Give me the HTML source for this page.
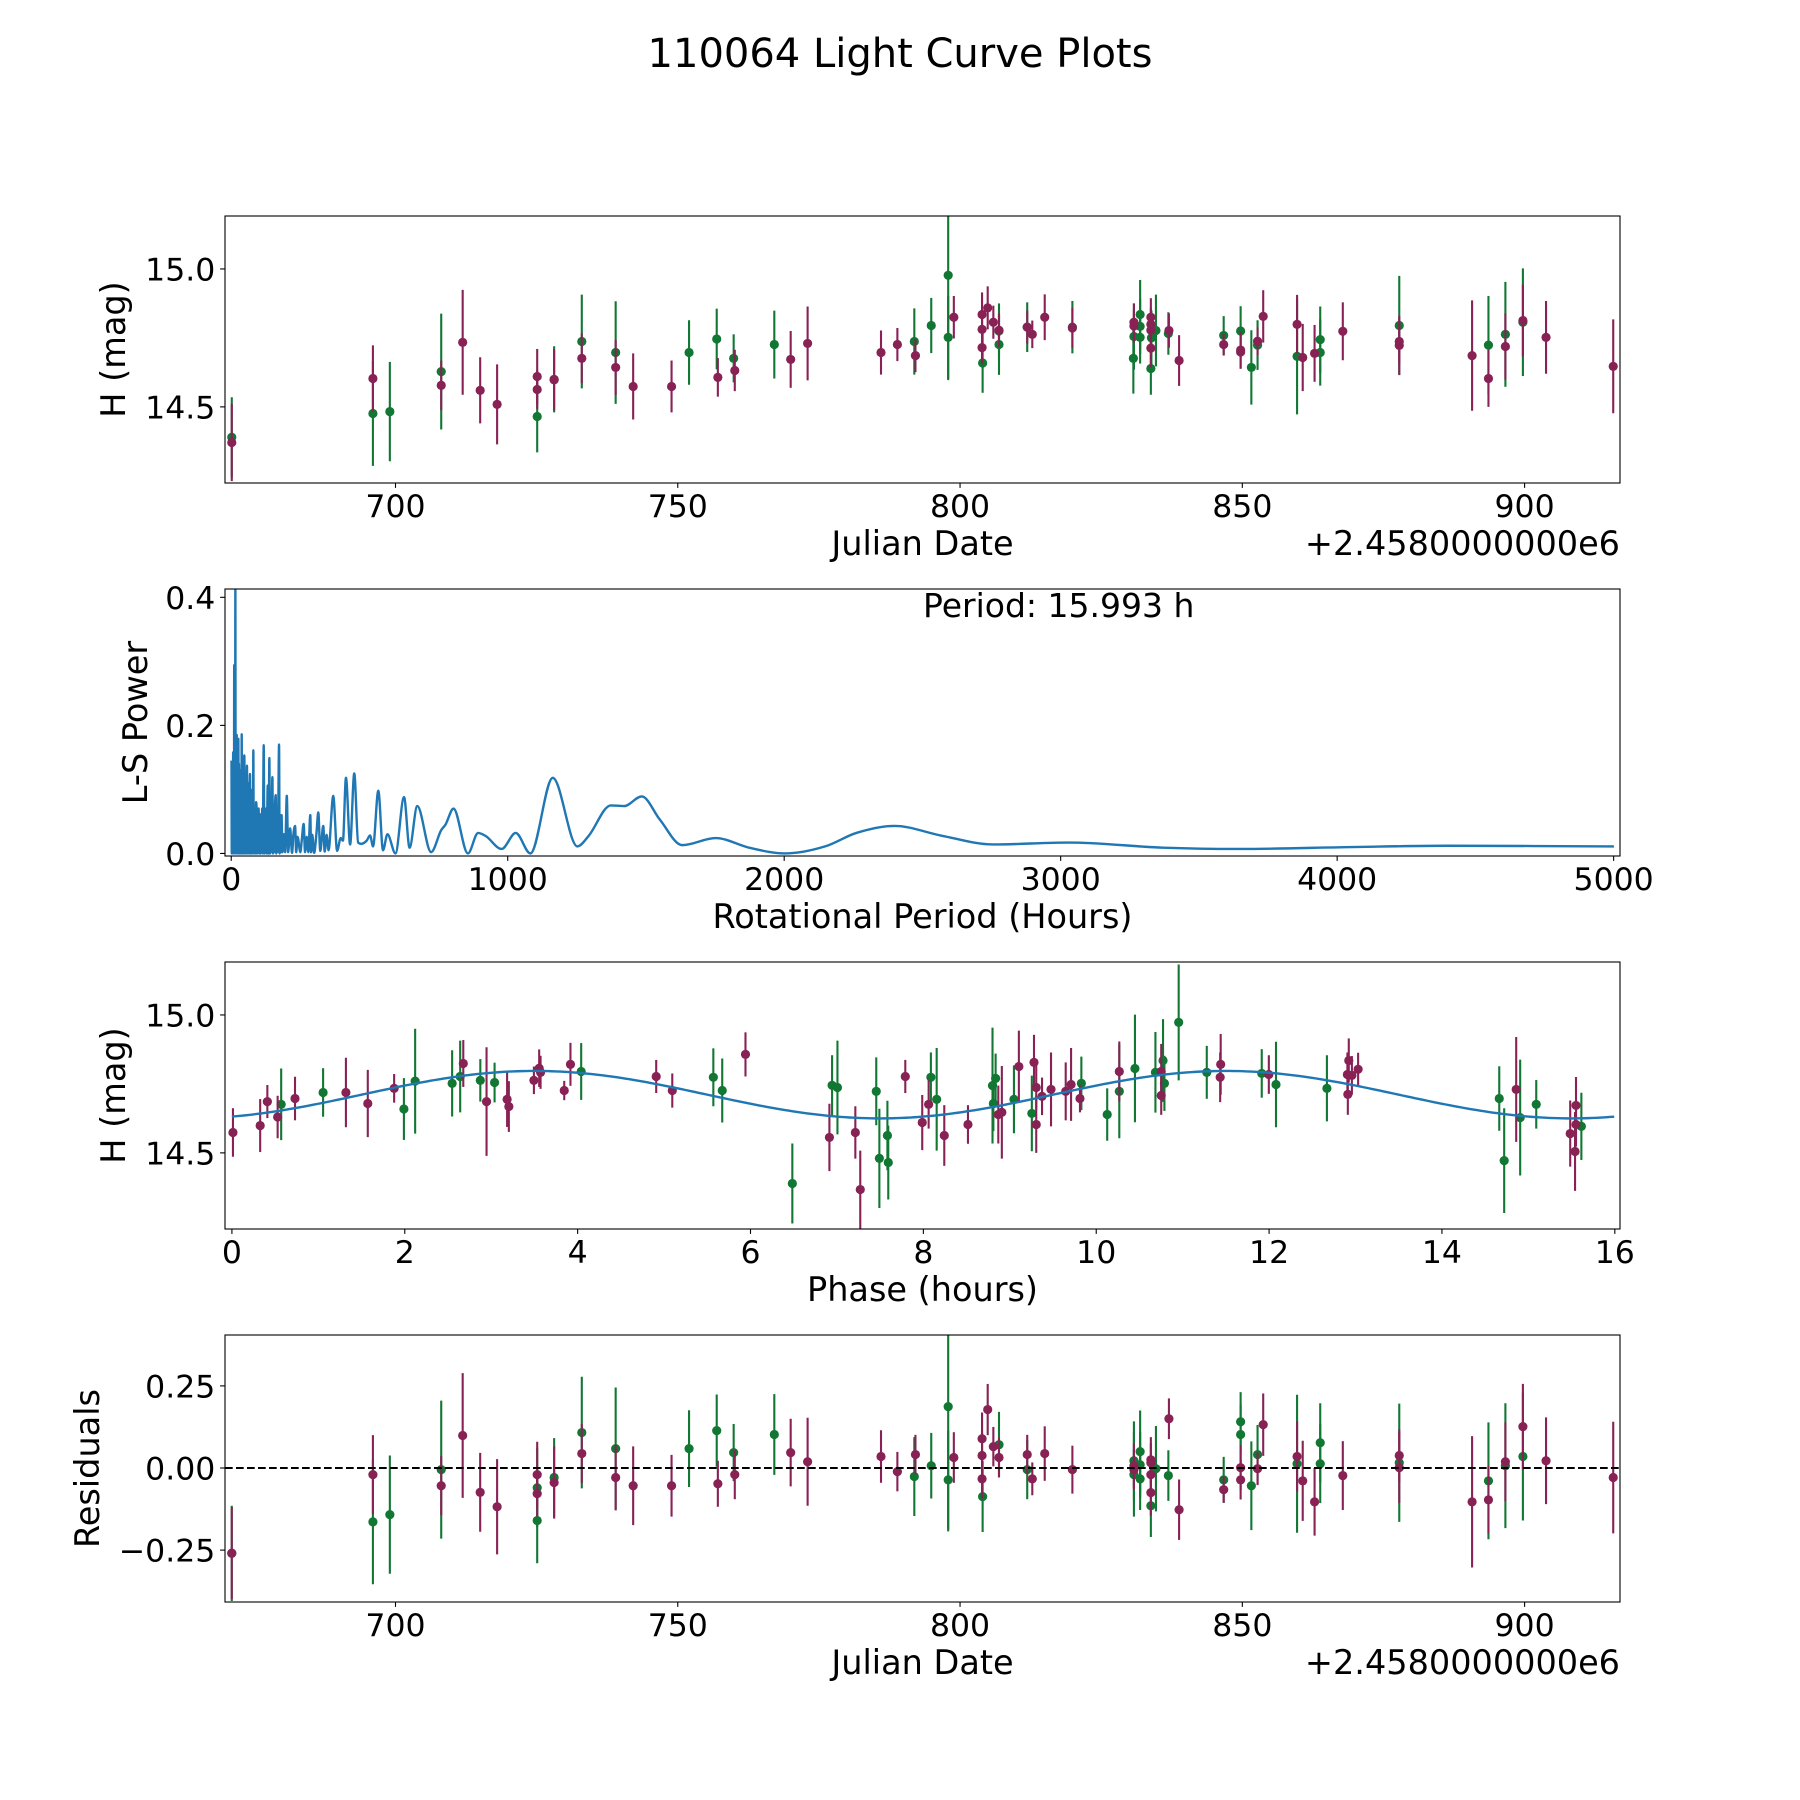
<!DOCTYPE html>
<html><head><meta charset="utf-8"><title>110064 Light Curve Plots</title>
<style>
html,body{margin:0;padding:0;background:#fff;}
svg{display:block;font-family:"DejaVu Sans","Liberation Sans",sans-serif;}
</style></head>
<body>
<svg id="fig" width="1800" height="1800" viewBox="0 0 1800 1800" xmlns="http://www.w3.org/2000/svg">
<rect x="0" y="0" width="1800" height="1800" fill="#fff"/>
<text x="900" y="67" font-size="40" text-anchor="middle">110064 Light Curve Plots</text>
</svg>
<script>
// ---------- DATA ----------
const topGreenDays=[671.0,696.0,699.0,708.1,725.1,728.1,733.0,739.0,752.0,756.9,759.9,767.1,791.9,794.9,797.9,797.9,804.0,806.9,806.9,811.9,819.9,830.7,830.8,831.9,831.9,831.9,833.8,833.9,834.7,836.9,846.7,849.7,851.6,852.7,859.7,863.8,863.8,877.8,893.6,896.6,899.7];
const topGreenMag=[14.390,14.476,14.483,14.628,14.465,14.600,14.737,14.697,14.697,14.746,14.676,14.726,14.737,14.795,14.977,14.752,14.659,14.775,14.726,14.789,14.789,14.676,14.755,14.835,14.792,14.752,14.639,14.750,14.777,14.766,14.759,14.775,14.643,14.724,14.683,14.697,14.744,14.795,14.724,14.763,14.807];
const topGreenErr=[0.145,0.19,0.18,0.21,0.13,0.12,0.17,0.186,0.117,0.11,0.087,0.123,0.12,0.10,0.38,0.15,0.108,0.10,0.11,0.09,0.095,0.128,0.12,0.125,0.10,0.095,0.095,0.10,0.13,0.077,0.07,0.09,0.135,0.09,0.21,0.12,0.12,0.18,0.178,0.19,0.195];

const topMaroonDays=[671.0,696.0,708.1,711.9,715.0,718.0,725.1,725.1,728.1,733.0,739.0,742.1,748.9,757.1,760.1,770.0,773.0,786.0,788.9,792.1,798.9,803.9,803.9,803.9,804.9,805.9,806.9,811.9,812.8,815.0,819.9,830.8,830.8,833.8,833.8,833.8,833.8,837.0,838.8,846.7,849.7,849.7,852.7,853.7,859.7,860.7,862.8,867.8,877.8,877.8,890.7,893.6,896.6,899.7,903.8,915.7];
const topMaroonMag=[14.371,14.603,14.578,14.734,14.560,14.509,14.610,14.563,14.598,14.676,14.643,14.574,14.574,14.607,14.632,14.672,14.730,14.697,14.726,14.686,14.825,14.835,14.781,14.715,14.859,14.807,14.778,14.789,14.763,14.825,14.786,14.807,14.793,14.825,14.799,14.778,14.713,14.777,14.668,14.726,14.706,14.699,14.738,14.828,14.799,14.679,14.694,14.774,14.737,14.723,14.686,14.603,14.719,14.813,14.752,14.647];
const topMaroonErr=[0.14,0.12,0.09,0.19,0.12,0.145,0.10,0.07,0.11,0.09,0.10,0.12,0.094,0.07,0.075,0.103,0.134,0.08,0.06,0.06,0.077,0.08,0.07,0.06,0.078,0.06,0.06,0.06,0.05,0.083,0.073,0.068,0.06,0.069,0.06,0.06,0.07,0.062,0.092,0.04,0.068,0.06,0.05,0.095,0.107,0.122,0.103,0.105,0.08,0.107,0.2,0.103,0.12,0.13,0.132,0.17];

const lsPeriods=[1,2,3,4,5,6,7,8,9,10,10.8,12,13,14,15,16,17,18,19.8,21,22,23,24,25,25.8,27,28,29,30,31,32,33,34,35,36,37,37.9,39,40,41,42,43,44,45,46,47.5,49,50,51,52,53,54,55,57,58.5,60,61.5,63,64.5,66,68,69.5,71,72.5,74,75.5,77,78.5,80,81.5,83,84.5,86,88,90,92,93.5,95,97,99,101,102.5,104,106,108,110,112,114,117.5,120,122,124,126,128,130,132,134,136,138,140,142,144,146,149,151,153,155,158,161,163,165,167,170,173,175,177,179,182,185,190,195,201,206,213,220,225,231,235,240,250,255,262,267,273,279,286,289,293,300,308,315,322,333,338,345,352,369,383,396,404,415,430,445,459,470,490,502,513,532,549,565,594,625,645,673,723,759,775,804,856,893,921,978,1029,1082,1163,1252,1292,1373,1421,1485,1550,1631,1752,1873,2002,2148,2261,2400,2567,2755,3030,3370,3645,4054,4394,5001];
const lsPower=[0.145,0.0,0.13,0.003,0.14,0.0,0.158,0.005,0.12,0.01,0.294,0.0,0.14,0.01,0.413,0.003,0.15,0.0,0.185,0.002,0.14,0.0,0.12,0.003,0.179,0.0,0.14,0.002,0.11,0.0,0.13,0.003,0.12,0.0,0.10,0.002,0.186,0.0,0.11,0.002,0.13,0.0,0.09,0.002,0.12,0.153,0.0,0.10,0.002,0.12,0.0,0.09,0.002,0.137,0.0,0.08,0.002,0.11,0.0,0.07,0.124,0.0,0.09,0.002,0.06,0.0,0.10,0.002,0.161,0.0,0.07,0.002,0.06,0.0,0.08,0.065,0.0,0.05,0.002,0.07,0.0,0.06,0.061,0.0,0.05,0.002,0.07,0.0,0.169,0.0,0.06,0.002,0.07,0.0,0.05,0.106,0.0,0.06,0.149,0.0,0.07,0.002,0.05,0.119,0.0,0.06,0.002,0.07,0.091,0.0,0.05,0.002,0.06,0.170,0.0,0.04,0.002,0.060,0.002,0.03,0.002,0.090,0.002,0.039,0.001,0.03,0.043,0.002,0.026,0.002,0.02,0.046,0.002,0.026,0.002,0.060,0.002,0.029,0.001,0.03,0.064,0.004,0.043,0.003,0.029,0.005,0.090,0.004,0.024,0.02,0.118,0.014,0.125,0.017,0.015,0.02,0.028,0.011,0.098,0.005,0.030,0.0,0.088,0.009,0.074,0.002,0.036,0.045,0.07,0.0,0.032,0.027,0.007,0.032,0.0,0.118,0.011,0.027,0.075,0.074,0.089,0.053,0.013,0.024,0.009,0.0,0.011,0.032,0.043,0.028,0.014,0.017,0.009,0.007,0.010,0.012,0.011];

const phaseGreenX=[0.57,1.055,1.99,2.12,2.548,2.641,2.874,3.039,4.041,5.57,5.673,6.484,6.944,7.006,7.455,7.491,7.584,7.594,8.087,8.154,8.8,8.81,8.836,9.048,9.255,9.828,10.127,10.267,10.448,10.685,10.773,10.789,10.954,11.279,11.915,12.08,12.669,14.663,14.72,14.905,15.091,15.613];
const phaseGreenY=[14.676,14.719,14.659,14.760,14.752,14.777,14.763,14.755,14.795,14.774,14.726,14.389,14.745,14.737,14.723,14.480,14.563,14.465,14.774,14.694,14.744,14.679,14.770,14.694,14.643,14.752,14.639,14.723,14.806,14.792,14.835,14.752,14.973,14.792,14.788,14.748,14.734,14.697,14.472,14.628,14.676,14.596];
const phaseGreenErr=[0.13,0.088,0.112,0.19,0.12,0.13,0.077,0.072,0.103,0.105,0.116,0.145,0.109,0.17,0.123,0.18,0.126,0.134,0.09,0.186,0.21,0.1,0.09,0.123,0.137,0.097,0.095,0.17,0.195,0.146,0.15,0.1,0.21,0.096,0.088,0.155,0.12,0.117,0.19,0.21,0.088,0.122];

const phaseMaroonX=[0.012,0.327,0.41,0.529,0.73,1.319,1.572,1.877,2.677,2.946,3.184,3.204,3.494,3.555,3.571,3.845,3.917,4.909,5.095,5.942,6.913,7.213,7.27,7.791,7.987,8.061,8.242,8.516,8.867,8.908,9.105,9.28,9.306,9.306,9.373,9.477,9.647,9.709,9.812,10.267,10.752,10.752,11.44,11.434,11.997,12.906,12.922,12.958,13.03,12.911,14.859,15.484,15.551,15.551,15.54];
const phaseMaroonY=[14.574,14.599,14.686,14.630,14.697,14.719,14.679,14.734,14.824,14.686,14.694,14.668,14.763,14.807,14.792,14.726,14.821,14.777,14.726,14.857,14.556,14.574,14.367,14.777,14.610,14.676,14.563,14.603,14.639,14.647,14.813,14.828,14.737,14.603,14.705,14.730,14.723,14.748,14.697,14.795,14.795,14.708,14.821,14.774,14.784,14.784,14.835,14.781,14.803,14.712,14.730,14.570,14.672,14.603,14.505];
const phaseMaroonErr=[0.088,0.096,0.06,0.077,0.079,0.126,0.122,0.052,0.085,0.197,0.1,0.092,0.05,0.068,0.06,0.035,0.078,0.06,0.062,0.08,0.122,0.095,0.141,0.06,0.10,0.088,0.11,0.07,0.105,0.168,0.13,0.1,0.08,0.103,0.068,0.134,0.105,0.132,0.05,0.109,0.1,0.07,0.11,0.09,0.07,0.08,0.08,0.07,0.06,0.074,0.19,0.12,0.103,0.08,0.143];

// fitted model: [mean mag, amplitude, phase of max (h), harmonic period (h)]
const fitParams=[14.711,0.086,3.5,8.0];

const resGreenDays=[671.0,696.0,699.0,708.1,725.1,725.1,728.1,733.0,739.0,752.0,756.9,759.9,767.1,791.9,794.9,797.9,797.9,804.0,806.9,811.9,830.8,830.8,831.9,831.9,831.9,833.8,834.7,836.9,846.7,849.7,849.7,851.6,852.7,859.7,863.8,863.8,877.8,893.6,896.6,899.7];
const resGreenVals=[-0.26,-0.164,-0.142,-0.005,-0.16,-0.06,-0.029,0.108,0.059,0.059,0.114,0.047,0.102,-0.026,0.007,0.187,-0.036,-0.087,0.071,-0.005,0.022,-0.02,0.05,0.01,-0.033,-0.115,-0.002,-0.023,-0.036,0.141,0.102,-0.054,0.041,0.013,0.077,0.013,0.016,-0.039,0.007,0.035];
const resGreenErr=[0.145,0.19,0.18,0.21,0.13,0.12,0.12,0.17,0.186,0.117,0.11,0.087,0.123,0.12,0.10,0.38,0.15,0.108,0.10,0.09,0.12,0.128,0.125,0.10,0.095,0.095,0.13,0.077,0.07,0.09,0.09,0.135,0.09,0.21,0.12,0.12,0.18,0.178,0.19,0.195];

const resMaroonDays=topMaroonDays.slice();
const resMaroonVals=[-0.259,-0.020,-0.054,0.099,-0.074,-0.118,-0.020,-0.078,-0.044,0.044,-0.029,-0.054,-0.054,-0.048,-0.020,0.047,0.019,0.035,-0.011,0.041,0.032,0.089,0.038,-0.033,0.178,0.065,0.032,0.041,-0.033,0.044,-0.005,0.007,-0.005,0.025,0.016,-0.020,-0.075,0.150,-0.127,-0.066,0.001,-0.036,-0.002,0.132,0.035,-0.039,-0.103,-0.023,0.038,0.001,-0.103,-0.097,0.019,0.126,0.022,-0.029];
const resMaroonErr=topMaroonErr.slice();

const jdTicks=[700,750,800,850,900];
const magTicks=[14.5,15.0];
const magTickLabels=["14.5","15.0"];
const lsXTicks=[0,1000,2000,3000,4000,5000];
const lsYTicks=[0,0.2,0.4];
const lsYTickLabels=["0.0","0.2","0.4"];
const phaseTicks=[0,2,4,6,8,10,12,14,16];
const resTicks=[-0.25,0,0.25];
const resTickLabels=["\u22120.25","0.00","0.25"];

// ---------- RENDER ----------
const NS="http://www.w3.org/2000/svg";
const svg=document.getElementById('fig');
const GREEN="#117733", MAROON="#882255", BLUE="#1f77b4";
const TICKFS=31.5, LABFS=33.5;
function mk(tag,attrs,parent){const e=document.createElementNS(NS,tag);for(const k in attrs)e.setAttribute(k,attrs[k]);(parent||svg).appendChild(e);return e;}
function lin(d0,d1,r0,r1){return v=>r0+(v-d0)/(d1-d0)*(r1-r0);}

const L=225,R=1620;
function axesBox(top,bot,name){
  const g=mk('g',{});
  
  
  const cp=mk('clipPath',{id:'clip-'+name},g);
  mk('rect',{x:L,y:top,width:R-L,height:bot-top},cp);
  const plot=mk('g',{'clip-path':'url(#clip-'+name+')'},g);
  
  
  return {g,plot,top,bot};
}
function frame(ax){
  const r=mk('rect',{x:L,y:ax.top,width:R-L,height:ax.bot-ax.top,fill:'none',stroke:'#000','stroke-width':1.1},ax.g);
  
  
}
function xTicks(ax,ticks,labels,sx){
  ticks.forEach((t,i)=>{const x=sx(t);
    const l=mk('line',{x1:x,x2:x,y1:ax.bot,y2:ax.bot+4.9,stroke:'#000','stroke-width':1.1},ax.g);
    
    
    const tx=mk('text',{x:x,y:ax.bot+34,'font-size':TICKFS,'text-anchor':'middle'},ax.g);
    tx.textContent=labels[i];
    
    
  });
}
function yTicks(ax,ticks,labels,sy){
  ticks.forEach((t,i)=>{const y=sy(t);
    const l=mk('line',{x1:L-4.9,x2:L,y1:y,y2:y,stroke:'#000','stroke-width':1.1},ax.g);
    
    
    const tx=mk('text',{x:L-9.7,y:y+11.5,'font-size':TICKFS,'text-anchor':'end'},ax.g);
    tx.textContent=labels[i];
    
    
  });
}
function xLabel(ax,txt,name){
  const t=mk('text',{x:(L+R)/2,y:ax.bot+72,'font-size':LABFS,'text-anchor':'middle'},ax.g);
  t.textContent=txt;
  
  
}
function yLabel(ax,txt,bx,name){
  const cy=(ax.top+ax.bot)/2;
  const t=mk('text',{x:bx,y:cy,'font-size':LABFS,'text-anchor':'middle',transform:'rotate(-90 '+bx+' '+cy+')'},ax.g);
  t.textContent=txt;
  
  
}
function offsetText(ax){
  const t=mk('text',{x:R,y:ax.bot+72,'font-size':LABFS,'text-anchor':'end'},ax.g);
  t.textContent='+2.4580000000e6';
  
  
}
function errSeries(parent,xs,ys,es,sx,sy,color,name){
  const g=mk('g',{},parent);
  
  
  xs.forEach((x,i)=>{const px=sx(x);
    const b=mk('line',{x1:px,x2:px,y1:sy(ys[i]-es[i]),y2:sy(ys[i]+es[i]),stroke:color,'stroke-width':2.1},g);
    
    
  });
  xs.forEach((x,i)=>{
    const c=mk('circle',{cx:sx(x),cy:sy(ys[i]),r:4.6,fill:color},g);
    
    
  });
}
function monotonePath(px,py){
  const n=px.length;if(n<2)return'';
  const d=[],m=new Array(n);
  for(let i=0;i<n-1;i++)d.push((py[i+1]-py[i])/(px[i+1]-px[i]||1e-9));
  m[0]=d[0];m[n-1]=d[n-2];
  for(let i=1;i<n-1;i++){m[i]=(d[i-1]*d[i]<=0)?0:(d[i-1]+d[i])/2;}
  for(let i=0;i<n-1;i++){if(d[i]===0){m[i]=0;m[i+1]=0;continue;}
    const a=m[i]/d[i],b=m[i+1]/d[i],s=a*a+b*b;if(s>9){const t=3/Math.sqrt(s);m[i]=t*a*d[i];m[i+1]=t*b*d[i];}}
  let p='M'+px[0].toFixed(2)+','+py[0].toFixed(2);
  for(let i=0;i<n-1;i++){const h=(px[i+1]-px[i])/3;
    p+='C'+(px[i]+h).toFixed(2)+','+(py[i]+m[i]*h).toFixed(2)+' '+(px[i+1]-h).toFixed(2)+','+(py[i+1]-m[i+1]*h).toFixed(2)+' '+px[i+1].toFixed(2)+','+py[i+1].toFixed(2);}
  return p;
}

// ---- Axes 1: light curve vs JD
const jdX=lin(669.8,916.9,L,R);
const a1=axesBox(216,483,'light-curve-axes');
const magY1=lin(14.224,15.192,483,216);
errSeries(a1.plot,topGreenDays,topGreenMag,topGreenErr,jdX,magY1,GREEN,'green-filter-series');
errSeries(a1.plot,topMaroonDays,topMaroonMag,topMaroonErr,jdX,magY1,MAROON,'maroon-filter-series');
frame(a1);
xTicks(a1,jdTicks,jdTicks.map(String),jdX);
yTicks(a1,magTicks,magTickLabels,magY1);
xLabel(a1,'Julian Date','x-axis-title-julian-date');
yLabel(a1,'H (mag)',125,'y-axis-title-magnitude');
offsetText(a1);

// ---- Axes 2: periodogram
const a2=axesBox(589,856,'periodogram-axes');
const pX=lin(-22.5,5023,L,R);
const pY=lin(-0.004,0.413,856,589);
const ppath=mk('path',{d:monotonePath(lsPeriods.map(pX),lsPower.map(pY)),fill:'none',stroke:BLUE,'stroke-width':2.4,'stroke-linejoin':'round'},a2.plot);


frame(a2);
xTicks(a2,lsXTicks,lsXTicks.map(String),pX);
yTicks(a2,lsYTicks,lsYTickLabels,pY);
xLabel(a2,'Rotational Period (Hours)','x-axis-title-period');
yLabel(a2,'L-S Power',147,'y-axis-title-power');
const pt=mk('text',{x:923,y:617,'font-size':33},a2.g);
pt.textContent='Period: 15.993 h';



// ---- Axes 3: phased light curve
const a3=axesBox(962,1229,'phase-axes');
const phX=lin(-0.08,16.06,L,R);
const magY3=lin(14.224,15.192,1229,962);
errSeries(a3.plot,phaseGreenX,phaseGreenY,phaseGreenErr,phX,magY3,GREEN,'phase-green-series');
errSeries(a3.plot,phaseMaroonX,phaseMaroonY,phaseMaroonErr,phX,magY3,MAROON,'phase-maroon-series');
const fx=[],fy=[];
for(let i=0;i<=320;i++){const p=i*15.993/320;fx.push(phX(p));fy.push(magY3(fitParams[0]+fitParams[1]*Math.cos(2*Math.PI*(p-fitParams[2])/fitParams[3])));}
const fit=mk('polyline',{points:fx.map((x,i)=>x.toFixed(2)+','+fy[i].toFixed(2)).join(' '),fill:'none',stroke:BLUE,'stroke-width':2.4},a3.plot);


frame(a3);
xTicks(a3,phaseTicks,phaseTicks.map(String),phX);
yTicks(a3,magTicks,magTickLabels,magY3);
xLabel(a3,'Phase (hours)','x-axis-title-phase');
yLabel(a3,'H (mag)',125,'y-axis-title-phase-magnitude');

// ---- Axes 4: residuals
const a4=axesBox(1335,1602,'residuals-axes');
const rY=lin(-0.408,0.405,1602,1335);
errSeries(a4.plot,resGreenDays,resGreenVals,resGreenErr,jdX,rY,GREEN,'residual-green-series');
errSeries(a4.plot,resMaroonDays,resMaroonVals,resMaroonErr,jdX,rY,MAROON,'residual-maroon-series');
const zl=mk('line',{x1:L,x2:R,y1:rY(0),y2:rY(0),stroke:'#000','stroke-width':2.1,'stroke-dasharray':'7.7,3.3'},a4.plot);


frame(a4);
xTicks(a4,jdTicks,jdTicks.map(String),jdX);
yTicks(a4,resTicks,resTickLabels,rY);
xLabel(a4,'Julian Date','x-axis-title-residual-date');
yLabel(a4,'Residuals',99,'y-axis-title-residuals');
offsetText(a4);
</script>
</body></html>
